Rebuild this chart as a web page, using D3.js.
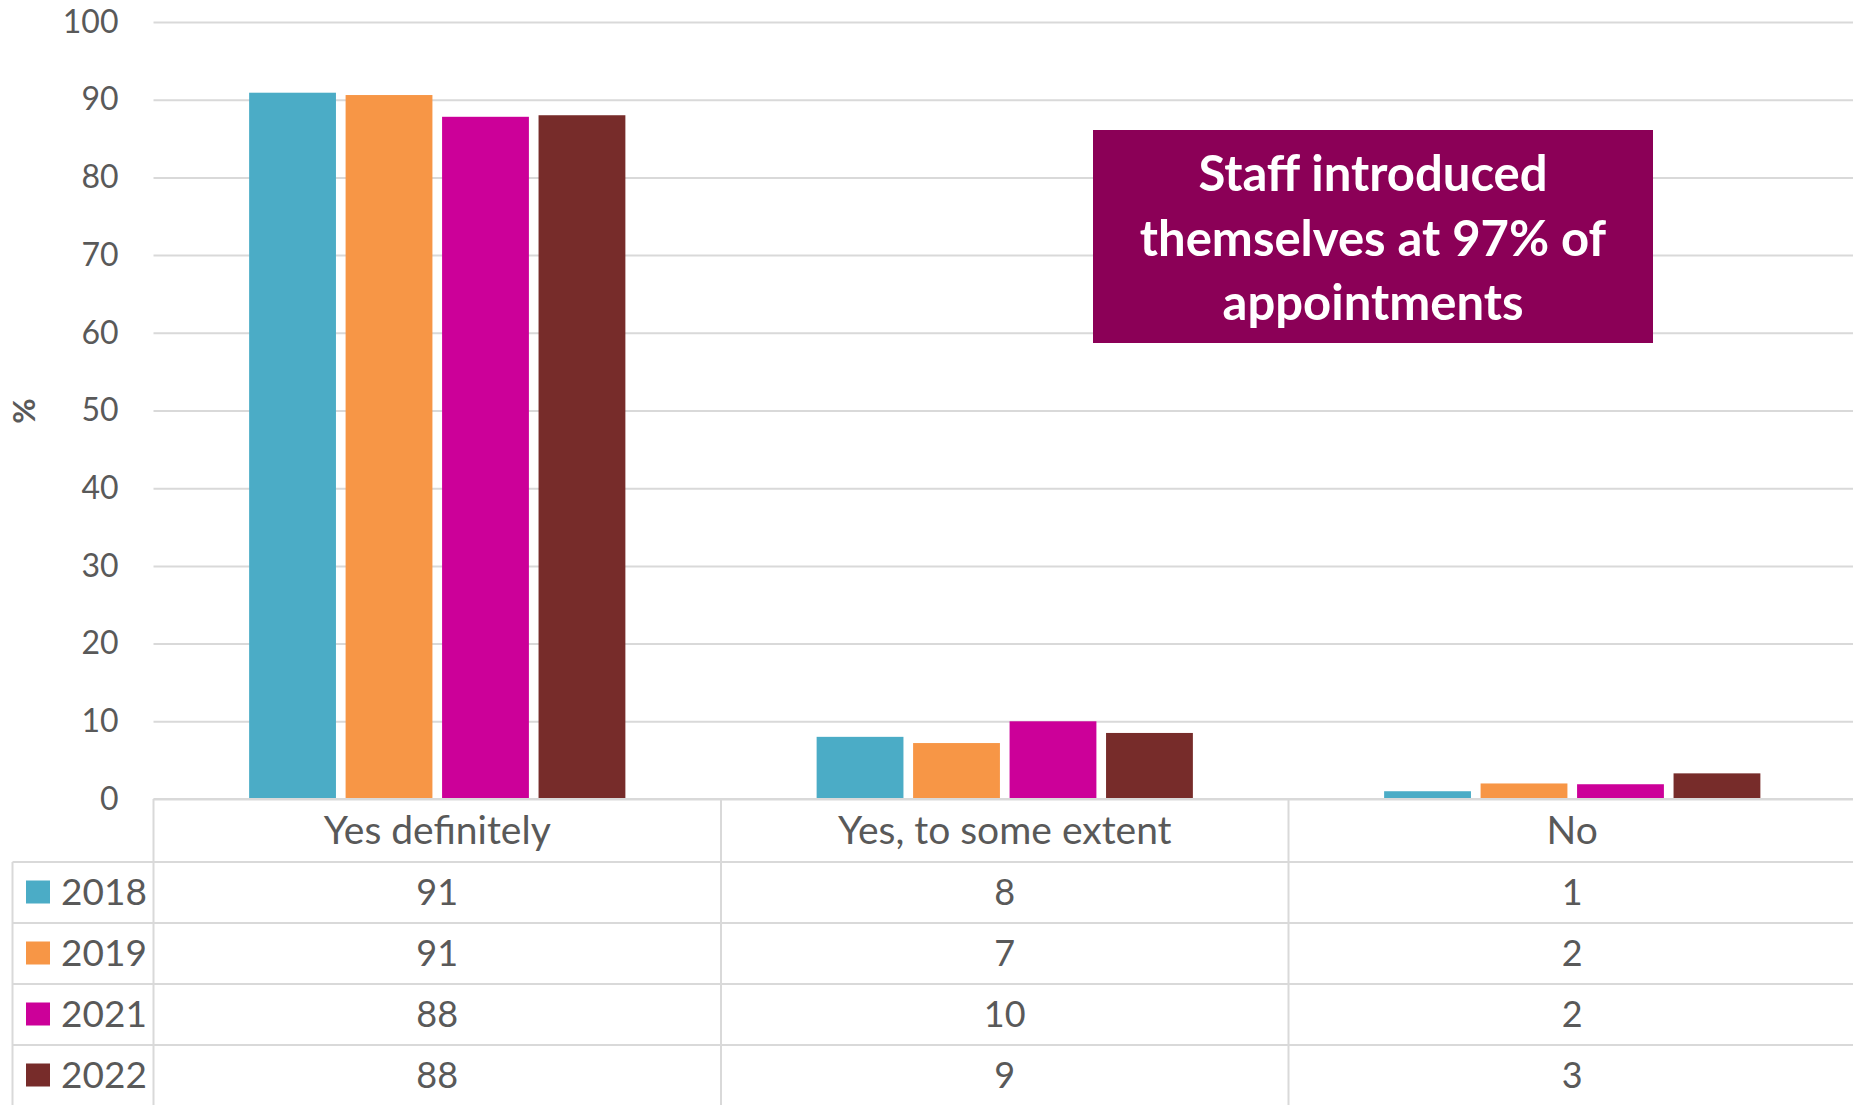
<!DOCTYPE html>
<html>
<head>
<meta charset="utf-8">
<script src="https://cdn.jsdelivr.net/npm/d3@7"></script>
<style>
  html, body { margin: 0; padding: 0; background: #fff; }
  svg { display: block; font-family: Lato, "Open Sans", sans-serif; }
</style>
</head>
<body>
<svg id="chart" width="1853" height="1105"></svg>
<script>
// Survey responses by year (%)
const categories = ["Yes definitely", "Yes, to some extent", "No"];
const years = ["2018", "2019", "2021", "2022"];
const values2018 = [90.9, 8.0, 1.0];
const values2019 = [90.6, 7.2, 2.0];
const values2021 = [87.8, 10.0, 1.9];
const values2022 = [88.0, 8.5, 3.3];
const yTicks = [0, 10, 20, 30, 40, 50, 60, 70, 80, 90, 100];
const colors = ["#4BACC6", "#F79646", "#CC0099", "#772C2A"];
const calloutLines = ["Staff introduced", "themselves at 97% of", "appointments"];

const seriesValues = [values2018, values2019, values2021, values2022];
const series = years.map((yr, i) => ({ year: yr, color: colors[i], values: seriesValues[i] }));

const svg = d3.select("#chart");
const gridColor = "#d9d9d9";
const textColor = "#595959";

const plotLeft = 153.5, plotRight = 1856, plotTop = 22, plotBottom = 799;
const headerH = 63, rowH = 61, legendLeft = 12.5;

const x0 = d3.scaleBand().domain(categories).range([plotLeft, plotRight]).padding(0);
const groupW = x0.bandwidth() * 0.663;
const x1 = d3.scaleBand().domain(years).range([0, groupW]).paddingInner(0.1).paddingOuter(0);
const y = d3.scaleLinear().domain([0, 100]).range([plotBottom, plotTop]);
const fmt = d3.format(".0f");

// gridlines and value axis
const yAxis = svg.append("g")
  .attr("transform", `translate(${plotLeft},0)`)
  .call(d3.axisLeft(y).tickValues(yTicks).tickSize(-(plotRight - plotLeft)).tickPadding(35));
yAxis.select(".domain").remove();
yAxis.selectAll(".tick line").attr("stroke", gridColor).attr("stroke-width", 2);
yAxis.selectAll(".tick text")
  .attr("fill", textColor)
  .style("font-size", "32px")
  .style("font-family", "Lato, 'Open Sans', sans-serif");

// axis title
svg.append("text")
  .attr("transform", "translate(35,411) rotate(-90)")
  .attr("text-anchor", "middle")
  .attr("fill", textColor)
  .style("font-size", "31px")
  .style("font-weight", "bold")
  .text("%");

// bars
const groups = svg.append("g").selectAll("g")
  .data(series)
  .join("g")
  .attr("fill", d => d.color);

groups.selectAll("rect")
  .data(d => d.values.map((v, i) => ({ year: d.year, cat: categories[i], value: v })))
  .join("rect")
  .attr("x", d => x0(d.cat) + (x0.bandwidth() - groupW) / 2 + x1(d.year))
  .attr("y", d => y(d.value))
  .attr("width", x1.bandwidth())
  .attr("height", d => y(0) - y(d.value));

// data table
const table = svg.append("g");
const rowTop = i => plotBottom + headerH + i * rowH;
const tableBottom = rowTop(years.length);

// horizontal rules
table.append("line")
  .attr("x1", plotLeft).attr("x2", plotRight)
  .attr("y1", plotBottom).attr("y2", plotBottom);
years.forEach((yr, i) => {
  table.append("line")
    .attr("x1", legendLeft).attr("x2", plotRight)
    .attr("y1", rowTop(i)).attr("y2", rowTop(i));
});
table.append("line")
  .attr("x1", legendLeft).attr("x2", plotRight)
  .attr("y1", tableBottom).attr("y2", tableBottom);

// vertical rules
table.append("line")
  .attr("x1", legendLeft).attr("x2", legendLeft)
  .attr("y1", rowTop(0)).attr("y2", tableBottom);
categories.forEach(c => {
  table.append("line")
    .attr("x1", x0(c)).attr("x2", x0(c))
    .attr("y1", plotBottom).attr("y2", tableBottom);
});
table.append("line")
  .attr("x1", plotRight).attr("x2", plotRight)
  .attr("y1", plotBottom).attr("y2", tableBottom);
table.selectAll("line").attr("stroke", gridColor).attr("stroke-width", 2);

// category header labels
table.selectAll("text.cat")
  .data(categories)
  .join("text")
  .attr("class", "cat")
  .attr("x", d => x0(d) + x0.bandwidth() / 2)
  .attr("y", plotBottom + headerH / 2)
  .attr("dy", "0.35em")
  .attr("text-anchor", "middle")
  .attr("fill", textColor)
  .style("font-size", "39px")
  .text(d => d);

// legend keys and year labels
const rows = table.selectAll("g.row")
  .data(series)
  .join("g")
  .attr("class", "row")
  .attr("transform", (d, i) => `translate(0,${rowTop(i) + rowH / 2})`);

rows.append("rect")
  .attr("x", 26).attr("y", -12)
  .attr("width", 24).attr("height", 23)
  .attr("fill", d => d.color);

rows.append("text")
  .attr("x", 61)
  .attr("dy", "0.35em")
  .attr("fill", textColor)
  .style("font-size", "37px")
  .text(d => d.year);

rows.selectAll("text.val")
  .data(d => d.values.map((v, i) => ({ cat: categories[i], value: v })))
  .join("text")
  .attr("class", "val")
  .attr("x", d => x0(d.cat) + x0.bandwidth() / 2)
  .attr("dy", "0.35em")
  .attr("text-anchor", "middle")
  .attr("fill", textColor)
  .style("font-size", "36px")
  .text(d => fmt(d.value));

// callout box
const callout = svg.append("g").attr("transform", "translate(1093,130)");
callout.append("rect")
  .attr("width", 560).attr("height", 213)
  .attr("fill", "#8B0057");
callout.selectAll("text")
  .data(calloutLines)
  .join("text")
  .attr("x", 280)
  .attr("y", (d, i) => 61 + i * 64.5)
  .attr("text-anchor", "middle")
  .attr("fill", "#ffffff")
  .style("font-size", "49px")
  .style("font-weight", "bold")
  .text(d => d);
</script>
</body>
</html>
